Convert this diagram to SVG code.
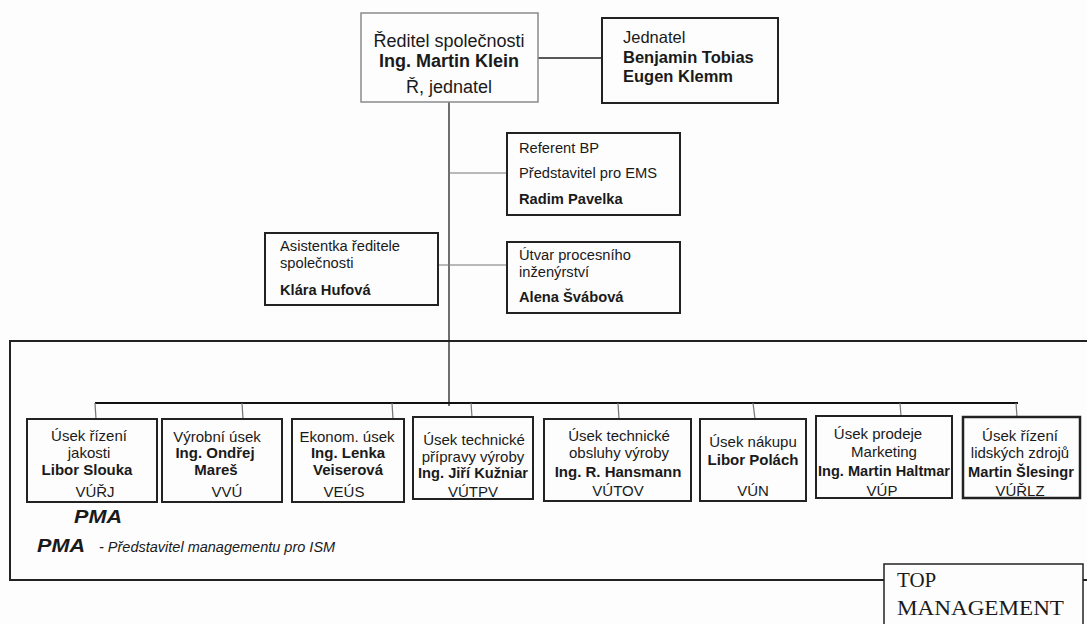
<svg xmlns="http://www.w3.org/2000/svg" width="1087" height="624" viewBox="0 0 1087 624">
<style>
.bg{fill:#fdfdfd}
.box{fill:#fdfdfd;stroke:#222;stroke-width:2}
.gbox{fill:#fdfdfd;stroke:#8a8a8a;stroke-width:1.5}
.ln{stroke:#222;stroke-width:1.3;fill:none}
.bus{stroke:#111;stroke-width:2;fill:none}
.gl{stroke:#777;stroke-width:1.2;fill:none}
.frame{fill:none;stroke:#222;stroke-width:2}
text{font-family:"Liberation Sans",Arial,sans-serif;fill:#1a1a1a}
.t18{font-size:18px}
.t16{font-size:16.5px}
.t15{font-size:14.7px}
.tb{font-size:15px}
.b{font-weight:bold}
.c{text-anchor:middle}
.pma{font-size:19px;font-weight:900;font-style:italic}
.it{font-size:14.5px;font-style:italic}
.serif{font-family:"Liberation Serif","Times New Roman",serif;font-size:21px}
</style>
<rect class="bg" x="0" y="0" width="1087" height="624"/>

<g id="frame">
<rect class="frame" x="10" y="341" width="1090" height="239"/>
</g>

<g id="connectors">
<line class="ln" x1="538" y1="58" x2="602" y2="58"/>
<line class="ln" x1="449" y1="102" x2="449" y2="406"/>
<line class="gl" x1="449" y1="173" x2="507" y2="173"/>
<line class="gl" x1="438" y1="265" x2="507" y2="265"/>
<line class="bus" x1="95" y1="403" x2="1018" y2="403"/>
<line class="gl" x1="95" y1="403" x2="96" y2="419"/>
<line class="gl" x1="242" y1="403" x2="243" y2="419"/>
<line class="gl" x1="392" y1="403" x2="393" y2="419"/>
<line class="gl" x1="471" y1="403" x2="472" y2="417"/>
<line class="gl" x1="618" y1="403" x2="619" y2="419"/>
<line class="gl" x1="753" y1="403" x2="755" y2="419"/>
<line class="gl" x1="900" y1="403" x2="901" y2="416"/>
<line class="gl" x1="1016" y1="403" x2="1017" y2="417"/>
</g>

<g id="reditel">
<rect class="gbox" x="361" y="13" width="177" height="89"/>
<text class="t18 c" x="449" y="47">Ředitel společnosti</text>
<text class="t18 c b" x="449" y="67">Ing. Martin Klein</text>
<text class="t18 c" x="449" y="93">Ř, jednatel</text>
</g>

<g id="jednatel">
<rect class="box" x="602" y="18" width="176" height="85"/>
<text class="t16" x="623" y="43">Jednatel</text>
<text class="t16 b" x="623" y="63">Benjamin Tobias</text>
<text class="t16 b" x="623" y="82">Eugen Klemm</text>
</g>

<g id="referent">
<rect class="box" x="507" y="133" width="173" height="82"/>
<text class="t15" x="519" y="153">Referent BP</text>
<text class="t15" x="519" y="178">Představitel pro EMS</text>
<text class="t15 b" x="519" y="204">Radim Pavelka</text>
</g>

<g id="asistentka">
<rect class="box" x="265" y="233" width="173" height="72"/>
<text class="t15" x="280" y="251">Asistentka ředitele</text>
<text class="t15" x="280" y="268">společnosti</text>
<text class="t15 b" x="280" y="295">Klára Hufová</text>
</g>

<g id="utvar">
<rect class="box" x="507" y="242" width="173" height="71"/>
<text class="t15" x="519" y="260">Útvar procesního</text>
<text class="t15" x="519" y="277">inženýrství</text>
<text class="t15 b" x="519" y="302">Alena Švábová</text>
</g>

<g id="vurj">
<rect class="box" x="27" y="419" width="130" height="83"/>
<text class="tb c" x="89" y="441">Úsek řízení</text>
<text class="tb c" x="89" y="458">jakosti</text>
<text class="tb c b" x="87" y="475">Libor Slouka</text>
<text class="tb c" x="95" y="497">VÚŘJ</text>
</g>

<g id="vvu">
<rect class="box" x="162" y="419" width="120" height="83"/>
<text class="tb c" x="217" y="442">Výrobní úsek</text>
<text class="tb c b" x="215" y="458">Ing. Ondřej</text>
<text class="tb c b" x="216" y="475">Mareš</text>
<text class="tb c" x="227" y="497">VVÚ</text>
</g>

<g id="veus">
<rect class="box" x="292" y="419" width="112" height="83"/>
<text class="tb c" x="347" y="442">Ekonom. úsek</text>
<text class="tb c b" x="348" y="458">Ing. Lenka</text>
<text class="tb c b" x="348" y="475">Veiserová</text>
<text class="tb c" x="344" y="497">VEÚS</text>
</g>

<g id="vutpv">
<rect class="box" x="413" y="417" width="120" height="82"/>
<text class="tb c" x="474" y="445">Úsek technické</text>
<text class="tb c" x="473" y="462">přípravy výroby</text>
<text class="tb c b" x="473" y="478" textLength="110" lengthAdjust="spacingAndGlyphs">Ing. Jiří Kužniar</text>
<text class="tb c" x="473" y="497">VÚTPV</text>
</g>

<g id="vutov">
<rect class="box" x="544" y="419" width="147" height="82"/>
<text class="tb c" x="619" y="441">Úsek technické</text>
<text class="tb c" x="619" y="458">obsluhy výroby</text>
<text class="tb c b" x="618" y="477">Ing. R. Hansmann</text>
<text class="tb c" x="618" y="496">VÚTOV</text>
</g>

<g id="vun">
<rect class="box" x="700" y="419" width="106" height="82"/>
<text class="tb c" x="753" y="447">Úsek nákupu</text>
<text class="tb c b" x="753" y="465">Libor Polách</text>
<text class="tb c" x="753" y="496">VÚN</text>
</g>

<g id="vup">
<rect class="box" x="816" y="416" width="136" height="82"/>
<text class="tb c" x="878" y="439">Úsek prodeje</text>
<text class="tb c" x="884" y="457">Marketing</text>
<text class="tb c b" x="884" y="476" textLength="132" lengthAdjust="spacingAndGlyphs">Ing. Martin Haltmar</text>
<text class="tb c" x="882" y="496">VÚP</text>
</g>

<g id="vurlz">
<rect class="box" x="963" y="417" width="117" height="81" style="stroke-width:2.5"/>
<text class="tb c" x="1020" y="441">Úsek řízení</text>
<text class="tb c" x="1020" y="458">lidských zdrojů</text>
<text class="tb c b" x="1021" y="477" textLength="106" lengthAdjust="spacingAndGlyphs">Martin Šlesingr</text>
<text class="tb c" x="1020" y="496">VÚŘLZ</text>
</g>

<g id="legend">
<text class="pma" x="74" y="523" textLength="48" lengthAdjust="spacingAndGlyphs">PMA</text>
<text class="pma" x="37" y="552" textLength="48" lengthAdjust="spacingAndGlyphs">PMA</text>
<text class="it" x="99" y="552">- Představitel managementu pro ISM</text>
</g>

<g id="top-management">
<rect class="box" x="884" y="564" width="199" height="70" style="stroke-width:1.5"/>
<text class="serif" x="897" y="587">TOP</text>
<text class="serif" x="897" y="615" textLength="167" lengthAdjust="spacingAndGlyphs">MANAGEMENT</text>
</g>
</svg>
